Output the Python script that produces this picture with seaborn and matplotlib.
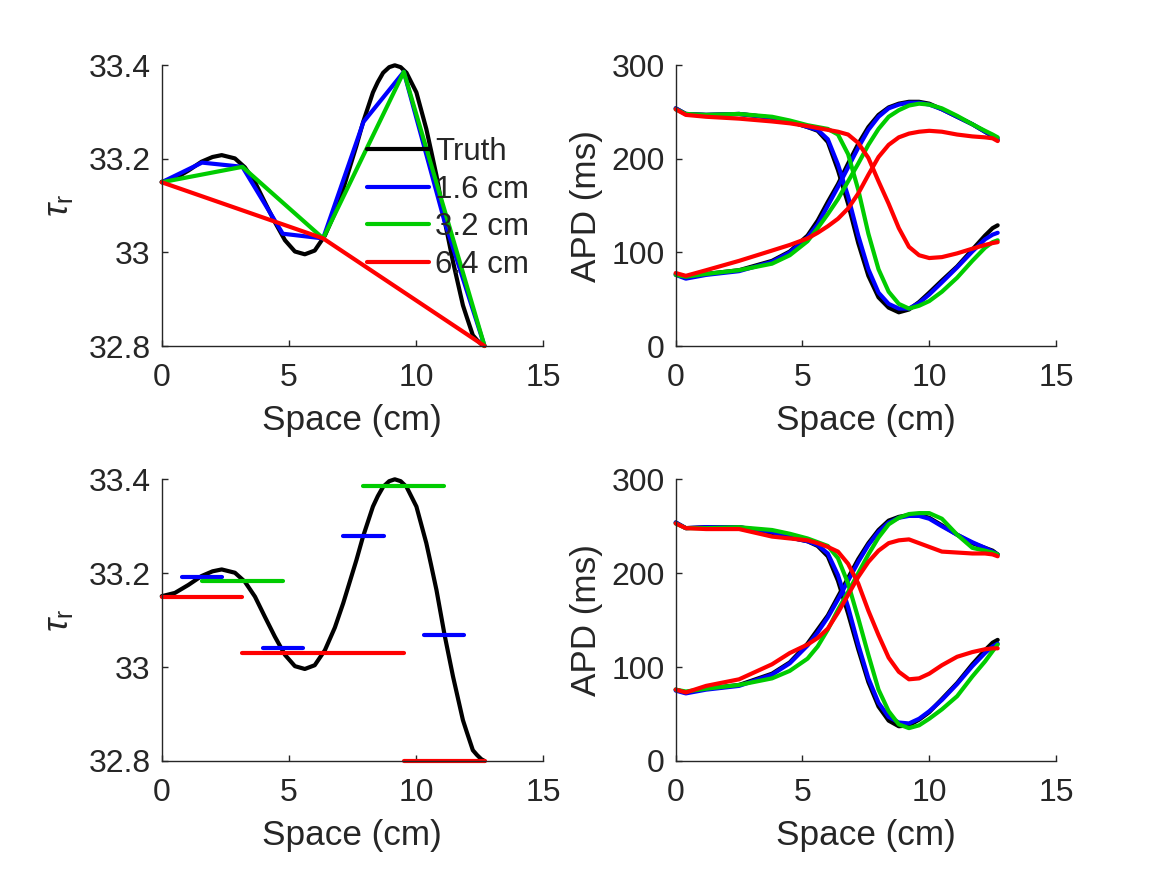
import numpy as np
import pandas as pd
import matplotlib
matplotlib.use("Agg")
import matplotlib.pyplot as plt
import seaborn as sns

# ---- data ----
# true tau_r profile along the cable (cm)
TRUTH_X = [0.0, 0.52, 1.05, 1.57, 2.0, 2.36, 2.88, 3.27, 3.67, 4.06, 4.45, 4.85,
           5.24, 5.63, 6.02, 6.42, 6.81, 7.14, 7.66, 7.92, 8.31, 8.5, 8.71, 8.95,
           9.17, 9.4, 9.63, 10.02, 10.2, 10.41, 10.6, 10.81, 11.13, 11.46, 11.85,
           12.0, 12.24, 12.4, 12.57, 12.7]
TRUTH_TAU = [33.151, 33.158, 33.175, 33.194, 33.204, 33.208, 33.201, 33.182,
             33.150, 33.107, 33.065, 33.026, 33.002, 32.996, 33.004, 33.036,
             33.084, 33.136, 33.228, 33.278, 33.342, 33.364, 33.384, 33.396,
             33.400, 33.396, 33.384, 33.342, 33.306, 33.264, 33.217, 33.164,
             33.068, 32.980, 32.887, 32.862, 32.823, 32.813, 32.804, 32.800]

# control nodes (finest level, 1.6 cm) and their tau_r values
NODE_X = [0.0, 1.5875, 3.175, 4.7625, 6.35, 7.9375, 9.525, 11.1125, 12.7]
NODE_TAU = [33.150, 33.192, 33.183, 33.040, 33.030, 33.279, 33.386, 33.069, 32.800]

LEVELS = ["1.6 cm", "3.2 cm", "6.4 cm"]
LEVEL_STEP = {"1.6 cm": 1, "3.2 cm": 2, "6.4 cm": 4}   # node stride per level

# APD curves, common x grid
APD_X = [0, 0.4, 1.2, 2.5, 3.8, 4.5, 5.2, 5.6, 6.0, 6.4, 6.8, 7.2, 7.6, 8.0,
         8.4, 8.8, 9.2, 9.6, 10.0, 10.5, 11.1, 11.7, 12.2, 12.5, 12.7]

# top row (linear interpolation)
TOP_DOWN = {
    "Truth":  [254, 248, 247, 248, 244, 240, 234, 230, 218, 188, 152, 110, 75, 52,
               41, 36, 39, 47, 57, 70, 85, 103, 118, 126, 129],
    "1.6 cm": [254, 248, 247, 248, 244, 240, 234, 231, 221, 194, 160, 118, 82, 57,
               45, 40, 40, 46, 55, 68, 84, 101, 114, 119, 121],
    "3.2 cm": [253, 248, 247, 248, 245, 241, 236, 234, 232, 226, 205, 167, 120, 82,
               58, 45, 40, 43, 48, 58, 73, 91, 105, 111, 113],
    "6.4 cm": [253, 247, 245, 243, 240, 238, 235, 233, 231, 229, 226, 217, 201, 176,
               152, 126, 106, 97, 94, 95, 99, 104, 108, 110, 111],
}
TOP_UP = {
    "Truth":  [77, 73, 77, 81, 91, 101, 118, 134, 154, 173, 195, 216, 234, 247,
               255, 259, 261, 261, 259, 253, 245, 237, 229, 224, 220],
    "1.6 cm": [76, 72, 76, 80, 90, 100, 116, 130, 150, 170, 191, 212, 231, 245,
               254, 258, 260, 260, 258, 253, 245, 237, 229, 225, 222],
    "3.2 cm": [76, 74, 77, 81, 88, 97, 112, 126, 141, 157, 176, 195, 215, 232,
               245, 252, 257, 259, 258, 254, 246, 237, 230, 226, 223],
    "6.4 cm": [78, 75, 81, 91, 102, 108, 115, 121, 128, 136, 147, 163, 183, 202,
               215, 223, 227, 229, 230, 229, 226, 224, 223, 222, 219],
}

# bottom row (nearest-node interpolation)
BOT_DOWN = {
    "Truth":  [254, 248, 249, 249, 243, 238, 234, 229, 218, 192, 157, 119, 84, 58,
               43, 37, 38, 44, 52, 66, 83, 103, 118, 126, 129],
    "1.6 cm": [254, 248, 249, 249, 244, 238, 234, 230, 221, 198, 164, 124, 88, 62,
               47, 41, 40, 45, 53, 65, 82, 101, 115, 122, 125],
    "3.2 cm": [253, 248, 248, 249, 246, 242, 237, 233, 229, 216, 189, 152, 113, 76,
               53, 39, 35, 38, 45, 55, 69, 90, 106, 117, 124],
    "6.4 cm": [253, 248, 247, 247, 239, 237, 235, 232, 228, 223, 210, 189, 160, 134,
               110, 95, 87, 88, 93, 102, 111, 116, 119, 120, 120],
}
BOT_UP = {
    "Truth":  [76, 73, 77, 81, 93, 105, 125, 140, 155, 175, 195, 215, 232, 246,
               256, 260, 262, 262, 259, 251, 241, 232, 227, 224, 220],
    "1.6 cm": [75, 72, 76, 80, 92, 104, 123, 137, 153, 172, 192, 212, 230, 244,
               254, 259, 261, 261, 258, 250, 241, 233, 227, 223, 220],
    "3.2 cm": [76, 74, 77, 81, 88, 96, 109, 122, 140, 161, 180, 200, 220, 238,
               252, 259, 263, 264, 264, 258, 241, 227, 224, 222, 220],
    "6.4 cm": [76, 73, 80, 87, 103, 115, 124, 131, 141, 158, 177, 196, 212, 224,
               232, 235, 236, 232, 228, 223, 222, 221, 221, 220, 218],
}

SERIES = ["Truth"] + LEVELS
PALETTE = {"Truth": "black", "1.6 cm": (0, 0, 1), "3.2 cm": (0, 0.8, 0), "6.4 cm": (1, 0, 0)}

# ---- long tables ----
truth_df = pd.DataFrame({"x": TRUTH_X, "tau": TRUTH_TAU, "series": "Truth"})

# top-left: piecewise-linear through each level's nodes
lin_rows = []
for lev in LEVELS:
    idx = list(range(0, len(NODE_X), LEVEL_STEP[lev]))
    for i in idx:
        lin_rows.append({"x": NODE_X[i], "tau": NODE_TAU[i], "series": lev})
lin_df = pd.concat([truth_df, pd.DataFrame(lin_rows)], ignore_index=True)

# bottom-left: constant segments on the nodes new to each level
x_lo, x_hi = NODE_X[0], NODE_X[-1]
seg_rows = []
seg_id = 0
for lev in LEVELS:
    step = LEVEL_STEP[lev]
    half = (NODE_X[1] - NODE_X[0]) * step / 2
    if lev == LEVELS[-1]:
        idx = range(0, len(NODE_X), step)
    else:
        idx = range(step, len(NODE_X), 2 * step)
    for i in idx:
        for xx in (max(NODE_X[i] - half, x_lo), min(NODE_X[i] + half, x_hi)):
            seg_rows.append({"x": xx, "tau": NODE_TAU[i], "series": lev, "seg": seg_id})
        seg_id += 1
seg_df = pd.DataFrame(seg_rows)


def apd_table(down, up):
    parts = []
    for s in SERIES:
        parts.append(pd.DataFrame({"x": APD_X, "apd": down[s], "series": s, "branch": "down"}))
        parts.append(pd.DataFrame({"x": APD_X, "apd": up[s], "series": s, "branch": "up"}))
    return pd.concat(parts, ignore_index=True)


top_apd = apd_table(TOP_DOWN, TOP_UP)
bot_apd = apd_table(BOT_DOWN, BOT_UP)

# ---- style ----
sns.set_style("ticks")
plt.rcParams["font.family"] = ["Liberation Sans", "DejaVu Sans"]
plt.rcParams["mathtext.fontset"] = "custom"
plt.rcParams["mathtext.rm"] = "Liberation Sans"
plt.rcParams["mathtext.it"] = "Liberation Sans:italic"
INK = "#262626"
LW = 3.0

fig = plt.figure(figsize=(11.67, 8.75), dpi=100)
W, H = 1167, 875
def place(l, t, r, b):
    return fig.add_axes([l / W, 1 - b / H, (r - l) / W, (b - t) / H])

ax_tl = place(161.7, 65.3, 543.0, 346.0)
ax_tr = place(675.7, 65.3, 1056.0, 346.0)
ax_bl = place(161.7, 479.3, 543.0, 761.0)
ax_br = place(675.7, 479.3, 1056.0, 761.0)

line_kw = dict(estimator=None, sort=False, linewidth=LW, palette=PALETTE,
               hue_order=SERIES)

sns.lineplot(data=lin_df, x="x", y="tau", hue="series", ax=ax_tl, **line_kw)
sns.lineplot(data=truth_df, x="x", y="tau", color="black", ax=ax_bl,
             estimator=None, sort=False, linewidth=LW, legend=False)
sns.lineplot(data=seg_df, x="x", y="tau", hue="series", units="seg", ax=ax_bl,
             legend=False, estimator=None, sort=False, linewidth=LW,
             palette=PALETTE, hue_order=LEVELS)
sns.lineplot(data=top_apd, x="x", y="apd", hue="series", units="branch",
             ax=ax_tr, legend=False, **line_kw)
sns.lineplot(data=bot_apd, x="x", y="apd", hue="series", units="branch",
             ax=ax_br, legend=False, **line_kw)

for ax in (ax_tl, ax_bl, ax_tr, ax_br):
    for ln in ax.get_lines():
        ln.set_solid_capstyle("round")
        ln.set_solid_joinstyle("round")
        ln.set_clip_on(False)
    ax.set_xlim(0, 15)
    ax.set_xticks([0, 5, 10, 15])
    ax.set_xlabel("Space (cm)", fontsize=25.3, color=INK, labelpad=8)
    sns.despine(ax=ax)
    for sp in ("left", "bottom"):
        ax.spines[sp].set_color(INK)
        ax.spines[sp].set_linewidth(1.0)
    ax.tick_params(direction="in", length=4, width=1, labelsize=23, colors=INK)
    ax.tick_params(axis="x", pad=12)
    ax.tick_params(axis="y", pad=8)

for ax in (ax_tl, ax_bl):
    ax.set_ylim(32.8, 33.4)
    ax.set_yticks([32.8, 33.0, 33.2, 33.4])
    ax.set_yticklabels(["32.8", "33", "33.2", "33.4"])
    ax.set_ylabel(r"$\tau_{\mathrm{r}}$", fontsize=25.3, color=INK, labelpad=9)

for ax in (ax_tr, ax_br):
    ax.set_ylim(0, 300)
    ax.set_yticks([0, 100, 200, 300])
    ax.set_ylabel("APD (ms)", fontsize=25.3, color=INK, labelpad=6)

handles, labels = ax_tl.get_legend_handles_labels()
leg = ax_tl.legend(handles, labels, loc="center left",
                   bbox_to_anchor=(366.7 / W, 1 - 208.5 / H),
                   bbox_transform=fig.transFigure, frameon=False, fontsize=22.5,
                   borderpad=0, borderaxespad=0, handlelength=2.0,
                   handletextpad=0.2, labelspacing=0.25)
for h in leg.legend_handles:
    h.set_linewidth(LW)

fig.savefig("out.png", dpi=100)
